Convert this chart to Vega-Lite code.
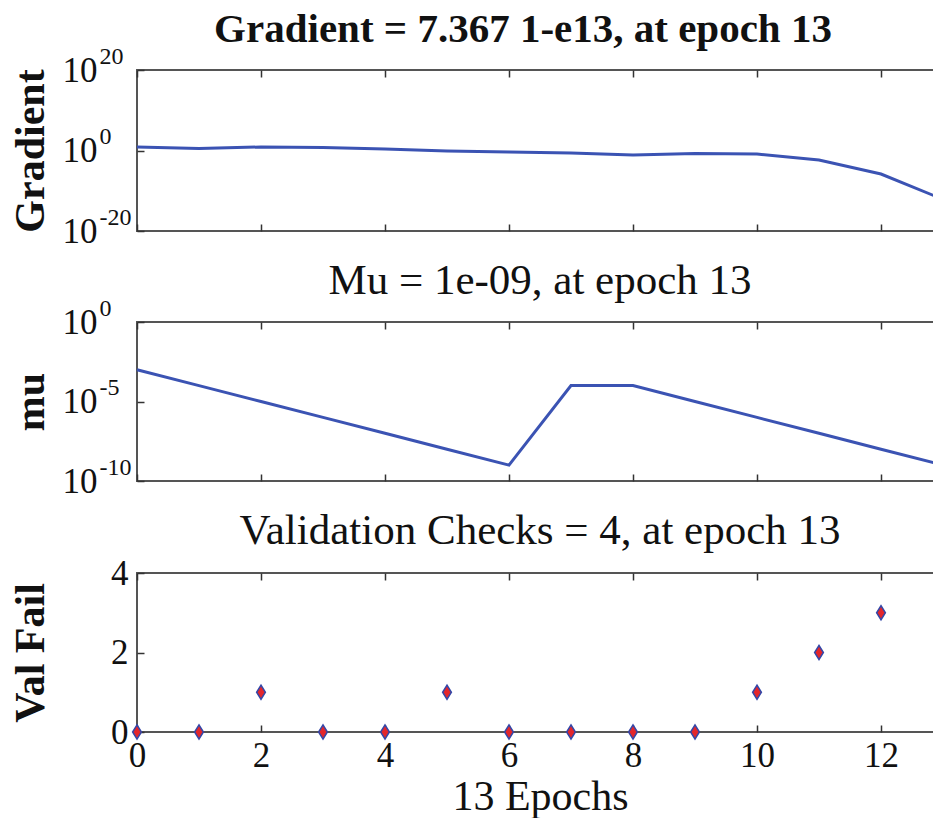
{
  "$schema": "https://vega.github.io/schema/vega-lite/v6.json",
  "background": "white",
  "padding": {"left": 8, "top": 8, "right": 0, "bottom": 0},
  "config": {
    "font": "Liberation Serif",
    "view": {"stroke": "#555555", "strokeWidth": 2},
    "axis": {
      "labelFont": "Liberation Serif", "labelFontSize": 35, "labelColor": "#111111",
      "titleFont": "Liberation Serif", "titleFontSize": 42, "titleColor": "#111111", "titleFontWeight": "normal",
      "grid": false, "domain": false, "tickColor": "#333333", "tickSize": -7, "tickWidth": 1.5
    },
    "title": {"font": "Liberation Serif", "fontSize": 43, "fontWeight": "normal", "color": "#111111", "anchor": "middle", "frame": "group", "offset": 1},
    "concat": {"spacing": 9}
  },
  "datasets": {
    "gradient": [
      {"epoch": 0, "gradient": 7.4}, {"epoch": 1, "gradient": 3.2}, {"epoch": 2, "gradient": 7.4},
      {"epoch": 3, "gradient": 5.6}, {"epoch": 4, "gradient": 2.4}, {"epoch": 5, "gradient": 0.75},
      {"epoch": 6, "gradient": 0.42}, {"epoch": 7, "gradient": 0.24}, {"epoch": 8, "gradient": 0.076},
      {"epoch": 9, "gradient": 0.18}, {"epoch": 10, "gradient": 0.135}, {"epoch": 11, "gradient": 0.0044},
      {"epoch": 12, "gradient": 1.45e-6}, {"epoch": 13, "gradient": 7.367e-13}
    ],
    "mu": [
      {"epoch": 0, "mu": 1e-3}, {"epoch": 1, "mu": 1e-4}, {"epoch": 2, "mu": 1e-5},
      {"epoch": 3, "mu": 1e-6}, {"epoch": 4, "mu": 1e-7}, {"epoch": 5, "mu": 1e-8},
      {"epoch": 6, "mu": 1e-9}, {"epoch": 7, "mu": 1e-4}, {"epoch": 8, "mu": 1e-4},
      {"epoch": 9, "mu": 1e-5}, {"epoch": 10, "mu": 1e-6}, {"epoch": 11, "mu": 1e-7},
      {"epoch": 12, "mu": 1e-8}, {"epoch": 13, "mu": 1e-9}
    ],
    "val": [
      {"epoch": 0, "fail": 0}, {"epoch": 1, "fail": 0}, {"epoch": 2, "fail": 1},
      {"epoch": 3, "fail": 0}, {"epoch": 4, "fail": 0}, {"epoch": 5, "fail": 1},
      {"epoch": 6, "fail": 0}, {"epoch": 7, "fail": 0}, {"epoch": 8, "fail": 0},
      {"epoch": 9, "fail": 0}, {"epoch": 10, "fail": 1}, {"epoch": 11, "fail": 2},
      {"epoch": 12, "fail": 3}, {"epoch": 13, "fail": 4}
    ]
  },
  "vconcat": [
    {
      "width": 806, "height": 161,
      "title": {"text": "Gradient = 7.367 1-e13, at epoch 13", "fontWeight": "bold", "fontSize": 41, "dx": -17, "offset": -7},
      "data": {"name": "gradient"},
      "layer": [
        {
          "mark": {"type": "line", "color": "#3b53b3", "strokeWidth": 3},
          "encoding": {
            "x": {"field": "epoch", "type": "quantitative", "scale": {"domain": [0, 13], "nice": false},
                  "axis": {"orient": "bottom", "values": [0, 2, 4, 6, 8, 10, 12], "labels": false, "title": null}},
            "y": {"field": "gradient", "type": "quantitative", "scale": {"type": "log", "domain": [1e-20, 1e20], "nice": false},
                  "axis": {"orient": "left", "values": [1e-20, 1, 1e20], "labelPadding": 47, "labelExpr": "'10'",
                           "title": "Gradient", "titleFontWeight": "bold", "titleX": -107, "titleBaseline": "middle"}}
          }
        },
        {
          "mark": {"type": "line", "opacity": 0},
          "encoding": {
            "x": {"field": "epoch", "type": "quantitative",
                  "axis": {"orient": "top", "values": [0, 2, 4, 6, 8, 10, 12], "labels": false, "title": null}},
            "y": {"field": "gradient", "type": "quantitative",
                  "axis": {"orient": "left", "values": [1e-20, 1, 1e20], "ticks": false, "labelFontSize": 24, "labelAlign": "left",
                           "labelPadding": 38, "labelOffset": -14,
                           "labelExpr": "datum.value > 1e10 ? '20' : datum.value > 1e-10 ? '0' : '-20'", "title": null}}
          }
        }
      ],
      "resolve": {"axis": {"x": "independent", "y": "independent"}}
    },
    {
      "width": 806, "height": 159,
      "title": {"text": "Mu = 1e-09, at epoch 13", "offset": -7},
      "data": {"name": "mu"},
      "layer": [
        {
          "mark": {"type": "line", "color": "#3b53b3", "strokeWidth": 3},
          "encoding": {
            "x": {"field": "epoch", "type": "quantitative", "scale": {"domain": [0, 13], "nice": false},
                  "axis": {"orient": "bottom", "values": [0, 2, 4, 6, 8, 10, 12], "labels": false, "title": null}},
            "y": {"field": "mu", "type": "quantitative", "scale": {"type": "log", "domain": [1e-10, 1], "nice": false},
                  "axis": {"orient": "left", "values": [1e-10, 1e-5, 1], "labelPadding": 47, "labelExpr": "'10'",
                           "title": "mu", "titleFontWeight": "bold", "titleX": -107, "titleBaseline": "middle"}}
          }
        },
        {
          "mark": {"type": "line", "opacity": 0},
          "encoding": {
            "x": {"field": "epoch", "type": "quantitative",
                  "axis": {"orient": "top", "values": [0, 2, 4, 6, 8, 10, 12], "labels": false, "title": null}},
            "y": {"field": "mu", "type": "quantitative",
                  "axis": {"orient": "left", "values": [1e-10, 1e-5, 1], "ticks": false, "labelFontSize": 24, "labelAlign": "left",
                           "labelPadding": 38, "labelOffset": -14,
                           "labelExpr": "datum.value > 0.1 ? '0' : datum.value > 1e-7 ? '-5' : '-10'", "title": null}}
          }
        }
      ],
      "resolve": {"axis": {"x": "independent", "y": "independent"}}
    },
    {
      "width": 806, "height": 159,
      "title": {"text": "Validation Checks = 4, at epoch 13", "offset": 3},
      "data": {"name": "val"},
      "layer": [
        {
          "mark": {"type": "point", "shape": "M0,-1L0.62,0L0,1L-0.62,0Z", "filled": true, "fill": "#e3262b", "stroke": "#3347a8", "strokeWidth": 1.5, "size": 200, "opacity": 1},
          "encoding": {
            "x": {"field": "epoch", "type": "quantitative", "scale": {"domain": [0, 13], "nice": false},
                  "axis": {"orient": "bottom", "values": [0, 2, 4, 6, 8, 10, 12], "labelFlush": false, "labelPadding": 13,
                           "title": "13 Epochs", "titlePadding": 3}},
            "y": {"field": "fail", "type": "quantitative", "scale": {"domain": [0, 4], "nice": false},
                  "axis": {"values": [0, 2, 4], "labelPadding": 16,
                           "title": "Val Fail", "titleFontWeight": "bold", "titleX": -107, "titleBaseline": "middle"}}
          }
        },
        {
          "mark": {"type": "point", "opacity": 0},
          "encoding": {
            "x": {"field": "epoch", "type": "quantitative",
                  "axis": {"orient": "top", "values": [0, 2, 4, 6, 8, 10, 12], "labels": false, "title": null}},
            "y": {"field": "fail", "type": "quantitative", "axis": null}
          }
        }
      ],
      "resolve": {"axis": {"x": "independent", "y": "independent"}}
    }
  ]
}
